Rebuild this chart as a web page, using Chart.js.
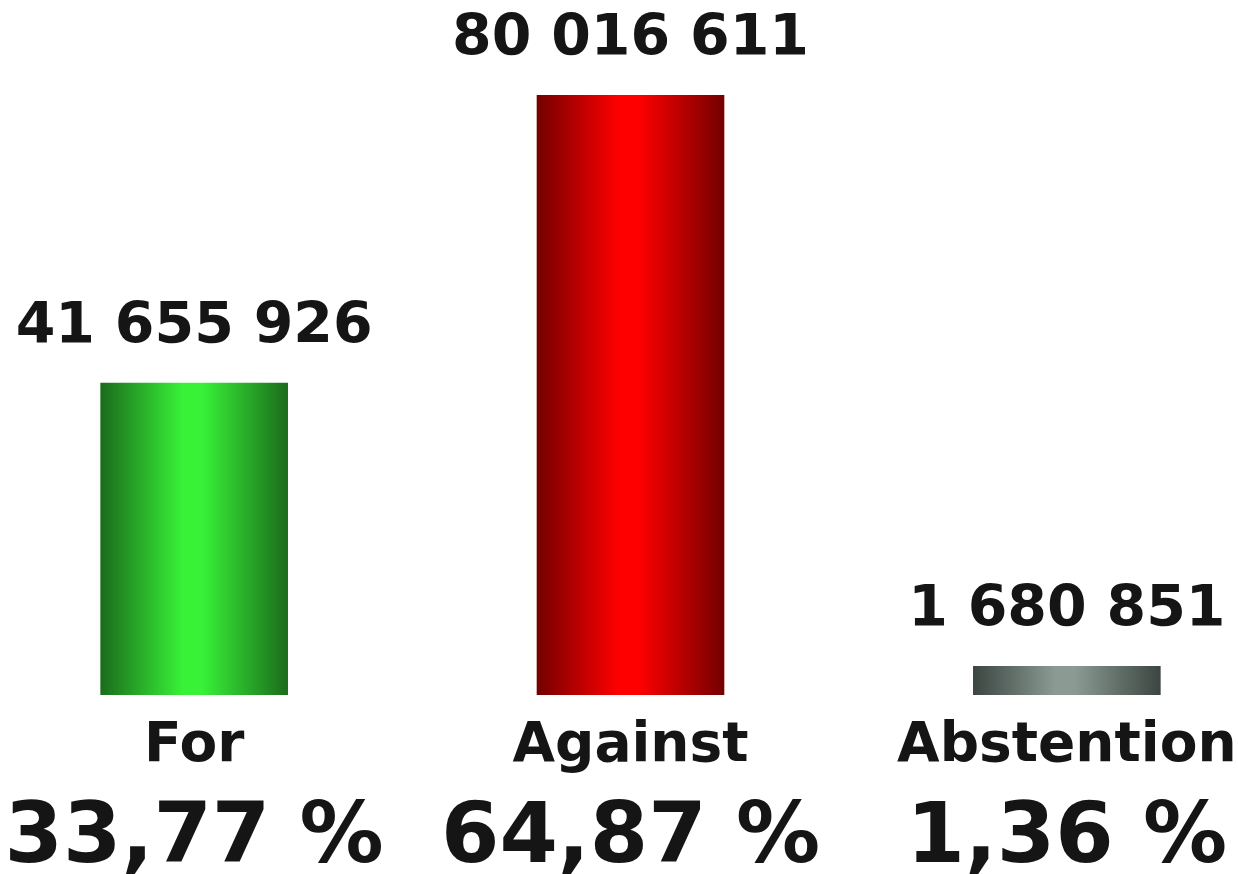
<!DOCTYPE html>
<html>
<head>
<meta charset="utf-8">
<script src="https://cdn.jsdelivr.net/npm/chart.js@4.4.1/dist/chart.umd.min.js"></script>
<style>
  html, body { margin: 0; padding: 0; background: #fff; overflow: hidden; }
  /* chart is wider than the window: the picture is a crop of a wider layout */
  #wrap { position: absolute; left: -24px; top: 0; width: 1309px; height: 874px; }
</style>
</head>
<body>
<div id="wrap"><canvas id="voteChart"></canvas></div>
<script>
var categories = ['For', 'Against', 'Abstention'];
var votes = [41655926, 80016611, 1680851];
// cylinder look: dark edges, bright middle
var edgeColors = ['#1b6b1b', '#730000', '#3b4541'];
var midColors = ['#38f238', '#ff0000', '#8b9b93'];

var total = votes.reduce(function (a, b) { return a + b; }, 0);
var percents = votes.map(function (v) {
    return (v / total * 100).toFixed(2).replace('.', ',') + ' %';
});

function spaced(n) {
    return String(n).replace(/\B(?=(\d{3})+(?!\d))/g, ' ');
}

var BAR_PCT = 0.43;

// Dégradé horizontal pour chaque barre
function cylinder(ctx) {
    var chart = ctx.chart, x = chart.scales.x, i = ctx.dataIndex;
    if (!chart.chartArea || !x) return midColors[i];
    var cx = x.getPixelForValue(i);
    var half = x.width / categories.length * BAR_PCT / 2;
    var g = chart.ctx.createLinearGradient(cx - half, 0, cx + half, 0);
    g.addColorStop(0, edgeColors[i]);
    g.addColorStop(0.44, midColors[i]);
    g.addColorStop(0.54, midColors[i]);
    g.addColorStop(1, edgeColors[i]);
    return g;
}

// Textes: valeurs au-dessus, catégorie et pourcentage en dessous
var voteLabels = {
    id: 'voteLabels',
    afterDatasetsDraw: function (chart) {
        var c = chart.ctx, meta = chart.getDatasetMeta(0), bottom = chart.chartArea.bottom;
        c.save();
        c.fillStyle = '#151515';
        c.textAlign = 'center';
        c.textBaseline = 'alphabetic';
        meta.data.forEach(function (bar, i) {
            c.font = 'bold 57px "DejaVu Sans"';
            c.fillText(spaced(votes[i]), bar.x, bar.y - 40);
            c.font = 'bold 55px "DejaVu Sans"';
            c.fillText(categories[i], bar.x, bottom + 66);
            c.font = 'bold 84px "DejaVu Sans"';
            c.fillText(percents[i], bar.x, bottom + 167);
        });
        c.restore();
    }
};

var ctxVote = document.getElementById('voteChart').getContext('2d');
var voteChart = new Chart(ctxVote, {
    type: 'bar',
    data: {
        labels: categories,
        datasets: [{
            data: votes,
            backgroundColor: cylinder,
            borderWidth: 0,
            barPercentage: BAR_PCT,
            categoryPercentage: 1,
            minBarLength: 29
        }]
    },
    options: {
        animation: false,
        responsive: true,
        maintainAspectRatio: false,
        layout: { padding: { top: 95, bottom: 179, left: 0, right: 0 } },
        plugins: { legend: { display: false }, tooltip: { enabled: false } },
        scales: {
            x: { display: false },
            y: { display: false, min: 0, max: Math.max.apply(null, votes) }
        }
    },
    plugins: [voteLabels]
});
</script>
</body>
</html>
